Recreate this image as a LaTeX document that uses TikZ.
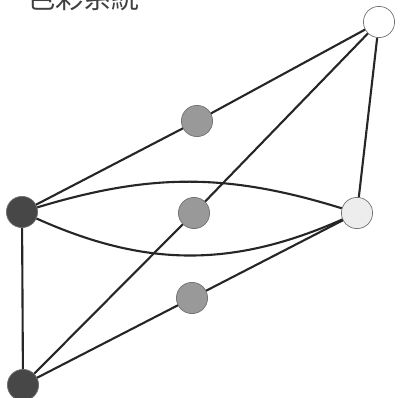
\documentclass[tikz,border=0pt]{standalone}
\usepackage{fontspec}
\newfontfamily\cjkfont{Noto Sans CJK TC}
\usetikzlibrary{positioning}
\tikzset{
  dot/.style={
    draw=black!55,
    circle,
    minimum size=0.78cm,
    inner sep=0pt,
    line width=0.5pt
  },
  darkdot/.style={dot, fill=black!72},
  graydot/.style={dot, fill=black!40},
  lightdot/.style={dot, fill=black!7},
  whitedot/.style={dot, fill=white},
  link/.style={line width=1.5pt, draw=black!85},
  title/.style={font=\cjkfont\fontsize{20}{24}\selectfont, text=black!75, inner sep=0pt}
}

\begin{document}
\begin{tikzpicture}[x=0.025cm, y=-0.025cm]
  \useasboundingbox (0,0) rectangle (400,398);

  \node[title, anchor=base west] (ttl) at (27,9) {色彩系統};

  \node[whitedot] (top) at (379,22) {};
  \node[darkdot] (left) at (22,212) {};
  \node[lightdot] (right) at (357,213) {};
  \node[darkdot] (bot) at (23,385) {};
  \node[graydot] (gmid) at (197,121) {};
  \node[graydot] (gcen) at (194,213) {};
  \node[graydot] (glow) at (192,298) {};

  \draw[link] (left) -- (gmid);
  \draw[link] (gmid) -- (top);
  \draw[link] (bot) -- (gcen);
  \draw[link] (gcen) -- (top);
  \draw[link] (bot) -- (glow);
  \draw[link] (glow) -- (right);
  \draw[link] (right) -- (top);
  \draw[link] (left) -- (bot);

  \draw[link] (left) to[bend left=17] (right);
  \draw[link] (left) to[bend right=24] (right);
\end{tikzpicture}
\end{document}
